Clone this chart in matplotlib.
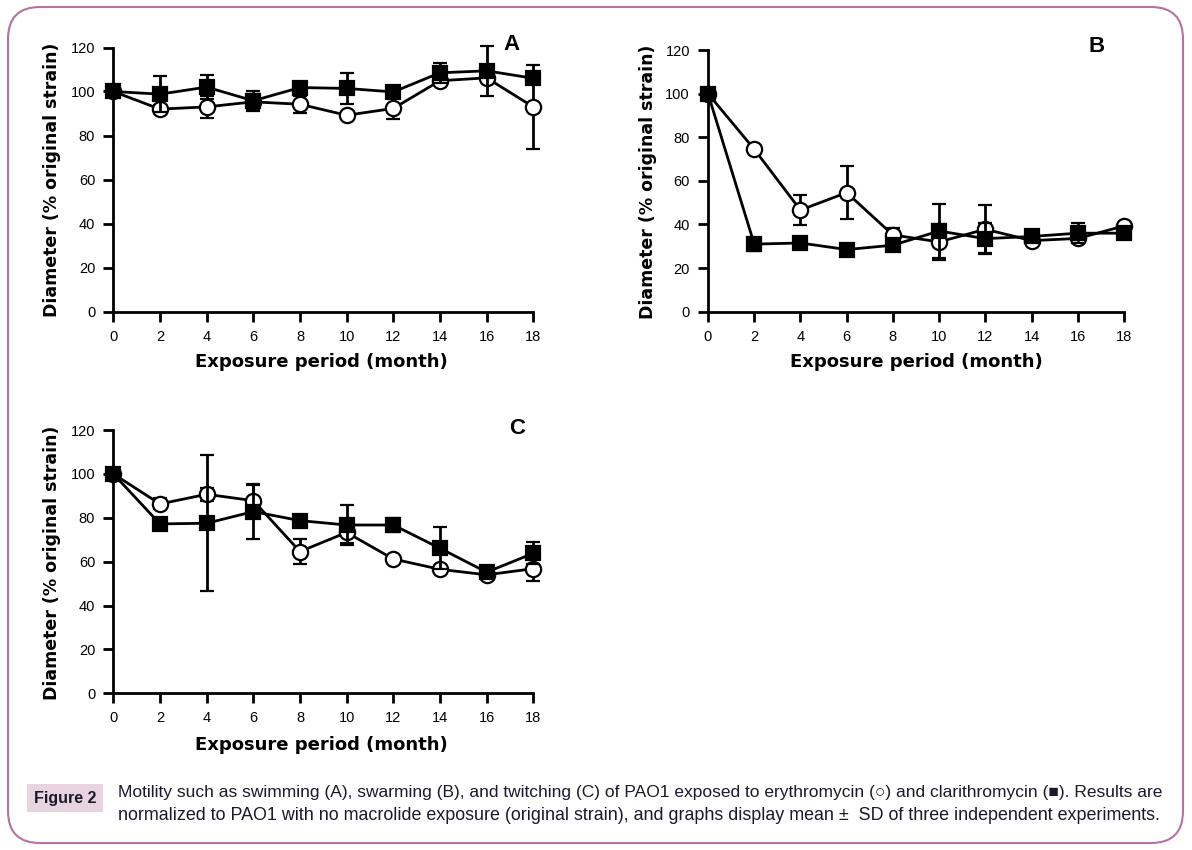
import matplotlib
matplotlib.use("Agg")
import matplotlib.pyplot as plt
from matplotlib.patches import FancyBboxPatch, Rectangle
from matplotlib.transforms import IdentityTransform

# --- data ---
months = [0, 2, 4, 6, 8, 10, 12, 14, 16, 18]

# A: swimming
ery_a = [100, 92, 93, 95.3, 94.2, 89.2, 92.3, 104.9, 106.2, 93]
ery_a_sd = [0, 2, 5, 3.5, 3.8, 1, 4.6, 2, 2, 19]
cla_a = [100, 98.8, 102, 95.8, 101.8, 101.4, 99.8, 108.5, 109.4, 106]
cla_a_sd = [0, 8.2, 5.6, 4.5, 2, 7, 2, 4.5, 11.4, 2.5]

# B: swarming
ery_b = [100, 74.5, 46.6, 54.6, 35.2, 32, 37.8, 32.6, 33.6, 39.3]
ery_b_sd = [0, 1, 7, 12.2, 3.3, 8.4, 11, 1, 2, 1]
cla_b = [100, 31, 31.5, 28.5, 30.5, 37, 33.5, 34.5, 36, 36]
cla_b_sd = [0, 3, 1.5, 1, 1, 12.4, 7, 1, 4.6, 1.5]

# C: twitching
ery_c = [100, 86.3, 90.7, 87.8, 64.6, 73.3, 61.2, 56.5, 54, 56.8]
ery_c_sd = [0, 2.5, 3, 7, 5.7, 4.6, 1, 1.5, 1, 5.4]
cla_c = [100, 77.2, 77.5, 82.8, 78.7, 76.7, 76.7, 66.1, 55.2, 63.8]
cla_c_sd = [0, 1, 31, 12.5, 1.5, 9, 3, 9.6, 1.5, 5]

xticks = [0, 2, 4, 6, 8, 10, 12, 14, 16, 18]
yticks = [0, 20, 40, 60, 80, 100, 120]

caption_1 = ("Motility such as swimming (A), swarming (B), and twitching (C) of PAO1 "
             "exposed to erythromycin (\u25cb) and clarithromycin (\u25a0). Results are")
caption_2 = ("normalized to PAO1 with no macrolide exposure (original strain), and "
             "graphs display mean \u00b1  SD of three independent experiments.")

W, H = 1192, 850
fig = plt.figure(figsize=(W / 100, H / 100), dpi=100)
fig.patch.set_facecolor("white")

tick_font = ["Liberation Sans", "DejaVu Sans"]
label_font = ["DejaVu Sans"]
cap_font = ["Liberation Sans", "DejaVu Sans"]


def px_axes(left, top, right, bottom):
    # pixel box (top-down y) -> figure fraction axes
    return fig.add_axes([left / W, 1 - bottom / H, (right - left) / W, (bottom - top) / H])


def fit_width(txt, target_px):
    # shrink/grow a text's font so it spans target_px
    r = fig.canvas.get_renderer()
    w = txt.get_window_extent(renderer=r).width
    txt.set_fontsize(txt.get_fontsize() * target_px / w)


def draw_panel(ax, ery, ery_sd, cla, cla_sd, letter, letter_xy):
    common = dict(color="black", lw=2, elinewidth=2, capsize=5, capthick=2,
                  markeredgecolor="black", markeredgewidth=1.6)
    c2 = ax.errorbar(months, ery, yerr=ery_sd, fmt="-o", ms=11,
                     markerfacecolor="white", zorder=3, **common)
    c1 = ax.errorbar(months, cla, yerr=cla_sd, fmt="-s", ms=10,
                     markerfacecolor="black", zorder=4, **common)
    for cont in (c1, c2):
        for art in cont.get_children():
            art.set_clip_on(False)

    ax.set_xlim(0, 18)
    ax.set_ylim(0, 120)
    ax.set_xticks(xticks)
    ax.set_yticks(yticks)
    for s in ("top", "right"):
        ax.spines[s].set_visible(False)
    for s in ("left", "bottom"):
        ax.spines[s].set_linewidth(2)
    ax.tick_params(direction="out", length=7, width=2, pad=6, labelsize=10.5)
    for lab in ax.get_xticklabels() + ax.get_yticklabels():
        lab.set_family(tick_font)
    ax.text(letter_xy[0] / W, 1 - letter_xy[1] / H, letter, transform=fig.transFigure,
            ha="center", va="center", fontsize=16, fontweight="bold",
            family=["Liberation Sans", "DejaVu Sans"])


ax_a = px_axes(113.3, 47.5, 533.3, 311.5)
ax_b = px_axes(708, 50, 1124, 311.7)
ax_c = px_axes(113.3, 430, 533.3, 693.3)

draw_panel(ax_a, ery_a, ery_a_sd, cla_a, cla_a_sd, "A", (512, 45))
draw_panel(ax_b, ery_b, ery_b_sd, cla_b, cla_b_sd, "B", (1097, 47))
draw_panel(ax_c, ery_c, ery_c_sd, cla_c, cla_c_sd, "C", (517, 428))

# axis titles (placed in pixels)
for (xx, yy) in [(321, 362), (916, 362), (321, 745)]:
    fig.text(xx / W, 1 - yy / H, "Exposure period (month)", ha="center", va="center",
             fontsize=13, fontweight="bold", family=label_font)
for (xx, yy) in [(52, 180), (648, 182), (52, 563)]:
    fig.text(xx / W, 1 - yy / H, "Diameter (% original strain)", ha="center", va="center",
             rotation=90, fontsize=12.5, fontweight="bold", family=label_font)

# rounded frame around the whole figure
frame = FancyBboxPatch((8, H - 843), 1175, 836, boxstyle="round,pad=0,rounding_size=32",
                       transform=IdentityTransform(), facecolor="none",
                       edgecolor="#b5739d", lw=1.5)
fig.patches.append(frame)

# caption
tag = Rectangle((27 / W, 1 - 812 / H), 76 / W, 28 / H, transform=fig.transFigure,
                facecolor="#e8d4df", edgecolor="none")
fig.patches.append(tag)
t0 = fig.text(65 / W, 1 - 798 / H, "Figure 2", ha="center", va="center", fontsize=12,
              fontweight="bold", color="#1a1a2a", family=cap_font)
fit_width(t0, 62)
t1 = fig.text(118 / W, 1 - 793 / H, caption_1, ha="left", va="center", fontsize=12,
              color="#1a1a2a", family=cap_font)
fit_width(t1, 1046)
t2 = fig.text(118 / W, 1 - 816 / H, caption_2, ha="left", va="center", fontsize=12,
              color="#1a1a2a", family=cap_font)
fit_width(t2, 1046)

fig.savefig("out.png", dpi=100)
